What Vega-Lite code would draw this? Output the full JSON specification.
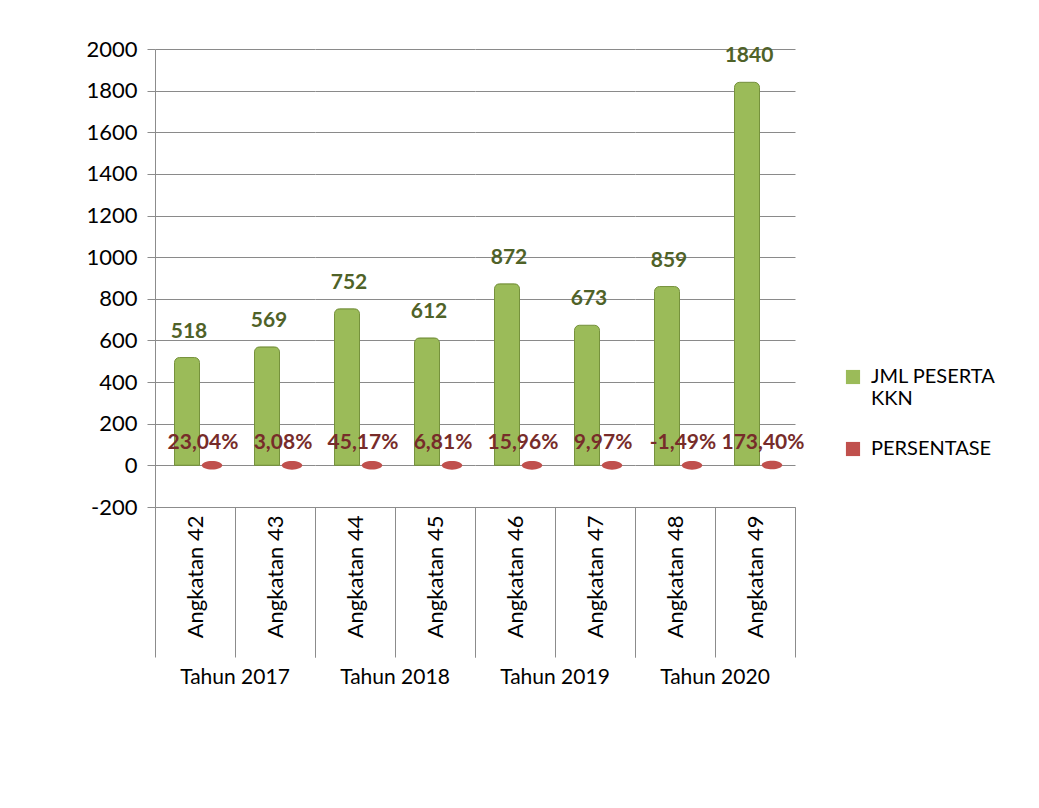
{
  "$schema": "https://vega.github.io/schema/vega-lite/v6.json",
  "background": "white",
  "padding": {"left": 85, "top": 38, "right": 20, "bottom": 10},
  "bounds": "flush",
  "config": {
    "font": "Lato",
    "view": {"stroke": null},
    "locale": {"number": {"decimal": ",", "thousands": ".", "grouping": [3], "currency": ["", ""], "minus": "-"}},
    "axis": {"labelFont": "Lato", "labelFontSize": 20, "labelColor": "#000000", "domainColor": "#8c8c8c", "tickColor": "#8c8c8c", "gridColor": "#8a8a8a", "gridWidth": 1}
  },
  "data": {
    "values": [
      {"tahun": "Tahun 2017", "angkatan": "Angkatan 42", "seri": "JML PESERTA KKN", "nilai": 518},
      {"tahun": "Tahun 2017", "angkatan": "Angkatan 42", "seri": "PERSENTASE", "nilai": 0.2304},
      {"tahun": "Tahun 2017", "angkatan": "Angkatan 43", "seri": "JML PESERTA KKN", "nilai": 569},
      {"tahun": "Tahun 2017", "angkatan": "Angkatan 43", "seri": "PERSENTASE", "nilai": 0.0308},
      {"tahun": "Tahun 2018", "angkatan": "Angkatan 44", "seri": "JML PESERTA KKN", "nilai": 752},
      {"tahun": "Tahun 2018", "angkatan": "Angkatan 44", "seri": "PERSENTASE", "nilai": 0.4517},
      {"tahun": "Tahun 2018", "angkatan": "Angkatan 45", "seri": "JML PESERTA KKN", "nilai": 612},
      {"tahun": "Tahun 2018", "angkatan": "Angkatan 45", "seri": "PERSENTASE", "nilai": 0.0681},
      {"tahun": "Tahun 2019", "angkatan": "Angkatan 46", "seri": "JML PESERTA KKN", "nilai": 872},
      {"tahun": "Tahun 2019", "angkatan": "Angkatan 46", "seri": "PERSENTASE", "nilai": 0.1596},
      {"tahun": "Tahun 2019", "angkatan": "Angkatan 47", "seri": "JML PESERTA KKN", "nilai": 673},
      {"tahun": "Tahun 2019", "angkatan": "Angkatan 47", "seri": "PERSENTASE", "nilai": 0.0997},
      {"tahun": "Tahun 2020", "angkatan": "Angkatan 48", "seri": "JML PESERTA KKN", "nilai": 859},
      {"tahun": "Tahun 2020", "angkatan": "Angkatan 48", "seri": "PERSENTASE", "nilai": -0.0149},
      {"tahun": "Tahun 2020", "angkatan": "Angkatan 49", "seri": "JML PESERTA KKN", "nilai": 1840},
      {"tahun": "Tahun 2020", "angkatan": "Angkatan 49", "seri": "PERSENTASE", "nilai": 1.734}
    ]
  },
  "facet": {
    "column": {
      "field": "tahun",
      "type": "nominal",
      "title": null,
      "header": {"labelOrient": "bottom", "labelFont": "Lato", "labelFontSize": 21, "labelColor": "#000000", "labelPadding": 160}
    }
  },
  "spacing": 0,
  "resolve": {"scale": {"x": "independent"}},
  "spec": {
    "width": 160,
    "height": 458,
    "encoding": {
      "x": {
        "field": "angkatan",
        "type": "nominal",
        "title": null,
        "scale": {"paddingInner": 0, "paddingOuter": 0},
        "axis": {"labelAngle": -90, "labelAlign": "right", "labelBaseline": "middle", "labelFontSize": 22, "tickBand": "extent", "tickSize": 150, "labelPadding": -142, "domain": true}
      },
      "y": {
        "field": "nilai",
        "type": "quantitative",
        "title": null,
        "scale": {"domain": [-200, 2000], "nice": false},
        "axis": {"values": [-200, 0, 200, 400, 600, 800, 1000, 1200, 1400, 1600, 1800, 2000], "format": "d", "labelFontSize": 22, "tickSize": 8, "labelPadding": 10}
      },
      "color": {
        "field": "seri",
        "type": "nominal",
        "title": null,
        "scale": {"domain": ["JML PESERTA KKN", "PERSENTASE"], "range": ["#9BBB59", "#C0504D"]},
        "legend": {
          "orient": "none",
          "legendX": 688,
          "legendY": 318,
          "symbolType": "square",
          "symbolSize": 200,
          "symbolStrokeWidth": 0,
          "labelFont": "Lato",
          "labelFontSize": 20,
          "labelColor": "#000000",
          "labelOffset": 8,
          "rowPadding": 30,
          "labelExpr": "datum.label == 'JML PESERTA KKN' ? ['JML PESERTA', 'KKN'] : datum.label"
        }
      }
    },
    "layer": [
      {
        "transform": [{"filter": "datum.seri == 'JML PESERTA KKN'"}],
        "mark": {"type": "bar", "width": 25, "xOffset": -8, "stroke": "#76923C", "strokeWidth": 1, "cornerRadiusEnd": 5}
      },
      {
        "transform": [{"filter": "datum.seri == 'PERSENTASE'"}],
        "mark": {"type": "point", "filled": true, "opacity": 1, "xOffset": 17, "shape": "M-1,0 A1,0.42 0 1,0 1,0 A1,0.42 0 1,0 -1,0 Z", "size": 420, "color": "#943B38"}
      },
      {
        "transform": [{"filter": "datum.seri == 'JML PESERTA KKN'"}],
        "mark": {"type": "text", "dy": -26, "xOffset": -6, "fontSize": 21, "fontWeight": "bold"},
        "encoding": {"text": {"field": "nilai", "type": "quantitative", "format": "d"}, "color": {"value": "#4F6228"}}
      },
      {
        "transform": [{"filter": "datum.seri == 'PERSENTASE'"}],
        "mark": {"type": "text", "dy": -22, "xOffset": 8, "fontSize": 21, "fontWeight": "bold"},
        "encoding": {"text": {"field": "nilai", "type": "quantitative", "format": ".2%"}, "color": {"value": "#772C2A"}}
      }
    ]
  }
}
